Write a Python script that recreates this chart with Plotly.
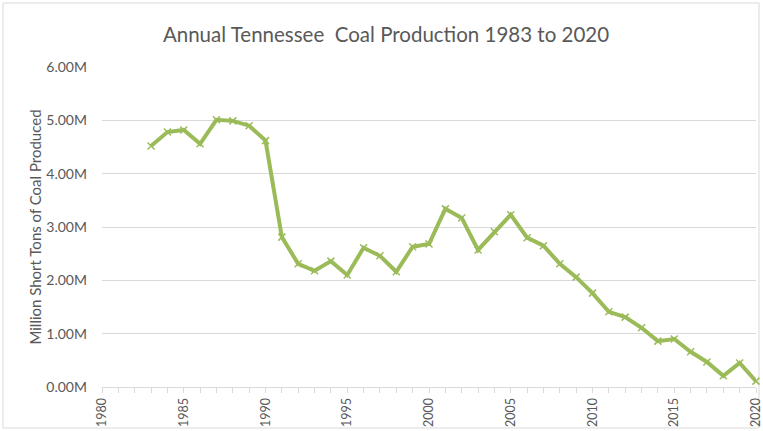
import plotly.graph_objects as go

years = list(range(1983, 2021))
production_m = [4.52, 4.78, 4.82, 4.56, 5.01, 4.99, 4.90, 4.62, 2.81, 2.31,
                2.18, 2.36, 2.10, 2.61, 2.46, 2.16, 2.63, 2.68, 3.34, 3.17,
                2.57, 2.91, 3.23, 2.80, 2.65, 2.31, 2.06, 1.76, 1.41, 1.31,
                1.11, 0.86, 0.90, 0.66, 0.47, 0.21, 0.45, 0.11]
y_ticks = [0, 1, 2, 3, 4, 5, 6]
y_tick_labels = ["0.00M", "1.00M", "2.00M", "3.00M", "4.00M", "5.00M", "6.00M"]
x_ticks = [1980, 1985, 1990, 1995, 2000, 2005, 2010, 2015, 2020]

font_family = "Lato, 'Open Sans', sans-serif"
grey = "#595959"

fig = go.Figure()
fig.add_trace(go.Scatter(
    x=years, y=production_m, mode="lines+markers",
    line=dict(color="#9BBB59", width=4),
    marker=dict(symbol="x-thin", size=7, color="#9BBB59",
                line=dict(color="#9BBB59", width=1.5)),
    showlegend=False, cliponaxis=False,
))

fig.update_layout(
    width=763, height=431,
    margin=dict(l=102, r=7, t=67, b=44),
    paper_bgcolor="white", plot_bgcolor="white",
    title=dict(text="Annual Tennessee  Coal Production 1983 to 2020",
               x=386 / 763, xref="container", xanchor="center", y=1 - 35 / 431, yanchor="middle",
               font=dict(family=font_family, size=20.5, color=grey)),
    font=dict(family=font_family, color=grey, size=12),
    xaxis=dict(range=[1980, 2020], tickvals=x_ticks, ticktext=[str(v) for v in x_ticks],
               tickangle=-90, showgrid=False, zeroline=False,
               showline=True, linecolor="#d9d9d9", linewidth=1,
               ticks="outside", ticklen=5, tickcolor="#d9d9d9",
               minor=dict(dtick=1, ticks="outside", ticklen=5, tickcolor="#d9d9d9", showgrid=False),
               tickfont=dict(size=12.5, color=grey), automargin=False,
               ticklabeloverflow="allow"),
    yaxis=dict(range=[0, 6], tickvals=y_ticks, ticktext=y_tick_labels,
               showgrid=True, gridcolor="#d9d9d9", gridwidth=1, zeroline=False,
               showline=False, ticks="", ticklabelstandoff=14,
               tickfont=dict(size=14, color=grey), automargin=False,
               title=dict(text="Million Short Tons of Coal Produced",
                          font=dict(size=15, color=grey), standoff=1)),
    shapes=[dict(type="rect", xref="paper", yref="paper",
                 x0=-99 / 654, x1=1 + 3 / 654, y0=-41 / 320, y1=1 + 64 / 320,
                 line=dict(color="#d9d9d9", width=1), layer="below")],
)

fig.write_html("out.html", config={"displayModeBar": False},
               post_script="document.body.style.margin='0px';document.body.style.overflow='hidden';")
